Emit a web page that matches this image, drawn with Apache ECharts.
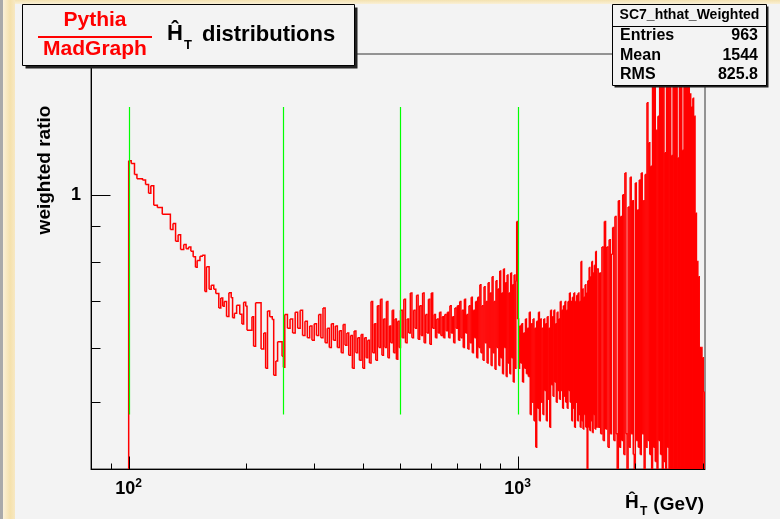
<!DOCTYPE html>
<html>
<head>
<meta charset="utf-8">
<script src="https://cdn.jsdelivr.net/npm/echarts@6.0.0/dist/echarts.min.js"></script>
<style>
  html, body { margin: 0; padding: 0; background: #f3f3f3; }
  #chart { width: 780px; height: 519px; }
</style>
</head>
<body>
<div id="chart"></div>
<script>
// empty bins (zero content) sit far below the log axis and get clipped
const EMPTY = 0.001

// low edges (GeV) + ratio for the part where single steps are readable
const seg1Edges = [80, 100, 101.5, 103.5, 105, 108.5, 110.5, 112.5, 114, 116,
  118.5, 122, 128, 130, 132, 134, 136, 138.5, 140.5, 142.5,
  144.5, 146.5, 148.5, 150, 152.5, 154.5, 157, 158.5, 161, 163,
  165.5, 167.5, 170.5, 172.5, 174.5, 176, 178.5, 181, 183.5, 185,
  187, 189.5, 193, 195.5, 197.5, 200, 201.5, 207.5, 209.5, 212,
  219, 222.5, 225, 227.5, 230.5, 234, 236, 239, 241.5, 248, 250]
const seg1Ratio = [EMPTY, 1.12, 1.11, 1.07, 1.055, 1.05, 1.035, 1.005, 1.03, 0.965,
  0.958, 0.937, 0.89, 0.908, 0.856, 0.875, 0.833, 0.847, 0.835, 0.84,
  0.828, 0.813, 0.785, 0.803, 0.814, 0.817, 0.724, 0.786, 0.729, 0.739,
  0.729, 0.719, 0.685, 0.708, 0.689, 0.70, 0.666, 0.721, 0.709, 0.663,
  0.673, 0.691, 0.671, 0.649, 0.698, 0.689, 0.636, 0.665, 0.603, 0.697,
  0.597, 0.63, 0.56, 0.678, 0.665, 0.659, 0.547, 0.574, 0.612, 0.583, 0.562]

// 252 - 500 GeV, 4 GeV bins
const seg2Ratio = [0.67, 0.64, 0.66, 0.63, 0.675, 0.64, 0.68, 0.625, 0.655, 0.62,
  0.645, 0.615, 0.65, 0.625, 0.67, 0.62, 0.685, 0.61, 0.64, 0.60,
  0.65, 0.615, 0.645, 0.60, 0.635, 0.59, 0.648, 0.605, 0.63, 0.585,
  0.625, 0.56, 0.634, 0.59, 0.62, 0.575, 0.627, 0.56, 0.62, 0.58,
  0.615, 0.57, 0.70, 0.59, 0.65, 0.575, 0.69, 0.60, 0.705, 0.585,
  0.66, 0.60, 0.70, 0.58, 0.645, 0.61, 0.68, 0.59, 0.66, 0.577,
  0.655, 0.60]

// 500 - 1000 GeV, 5 GeV bins
const seg3Ratio = [0.68, 0.62, 0.705, 0.61, 0.66, 0.63, 0.72, 0.62, 0.68, 0.64,
  0.715, 0.617, 0.69, 0.625, 0.72, 0.61, 0.67, 0.63, 0.705, 0.607,
  0.72, 0.64, 0.67, 0.62, 0.66, 0.63, 0.675, 0.625, 0.665, 0.62,
  0.67, 0.635, 0.675, 0.62, 0.69, 0.63, 0.665, 0.61, 0.685, 0.64,
  0.69, 0.615, 0.70, 0.62, 0.68, 0.60, 0.705, 0.63, 0.67, 0.597,
  0.69, 0.61, 0.71, 0.59, 0.68, 0.62, 0.70, 0.58, 0.71, 0.60,
  0.74, 0.59, 0.69, 0.575, 0.735, 0.61, 0.70, 0.57, 0.745, 0.60,
  0.72, 0.565, 0.76, 0.59, 0.70, 0.558, 0.75, 0.60, 0.73, 0.565,
  0.775, 0.58, 0.72, 0.55, 0.78, 0.60, 0.745, 0.545, 0.765, 0.57,
  0.72, 0.55, 0.77, 0.58, 0.74, 0.535, 0.765, 0.56, 0.75, 0.914]

// 1000 - 1600 GeV, 6 GeV bins
const seg4Ratio = [0.66, 0.56, 0.645, 0.57, 0.65, 0.535, 0.63, 0.56, 0.66, 0.55,
  0.64, 0.545, 0.675, 0.48, 0.65, 0.50, 0.66, 0.47, 0.64, 0.43,
  0.655, 0.49, 0.675, 0.47, 0.66, 0.50, 0.64, 0.48, 0.66, 0.52,
  0.65, 0.47, 0.665, 0.505, 0.64, 0.46, 0.68, 0.53, 0.665, 0.51,
  0.68, 0.535, 0.65, 0.50, 0.675, 0.52, 0.66, 0.505, 0.70, 0.52,
  0.68, 0.49, 0.69, 0.51, 0.70, 0.50, 0.68, 0.49, 0.70, 0.52,
  0.72, 0.50, 0.70, 0.47, 0.71, 0.49, 0.72, 0.46, 0.70, 0.50,
  0.715, 0.47, 0.72, 0.48, 0.70, 0.46, 0.80, 0.47, 0.73, 0.457,
  0.71, 0.48, 0.74, 0.46, 0.72, EMPTY, 0.75, 0.46, 0.784, 0.455,
  0.76, 0.47, 0.80, 0.452, 0.77, 0.48, 0.79, 0.457, 0.827, 0.46]

// 1600 - 3040 GeV, 12 GeV bins
const seg5Ratio = [0.78, 0.46, 0.77, 0.45, 0.84, 0.44, 0.914, 0.457, 0.84, 0.43,
  0.86, 0.45, 0.82, 0.896, 0.44, 0.93, 0.45, EMPTY, 0.98, 0.43,
  0.93, 0.44, 1.0, 0.42, 1.075, 0.45, EMPTY, 0.96, 0.43, 1.06,
  0.45, 0.98, 0.42, EMPTY, 1.04, 0.44, 0.95, 0.43, 1.05, 0.42,
  1.075, 0.45, 0.98, EMPTY, 1.07, 0.43, 1.36, 0.44, 1.19, 0.42,
  1.10, EMPTY, 1.5, 0.43, 1.45, 0.41, 1.24, EMPTY, 1.3, 0.44,
  1.8, 0.42, 2.0, EMPTY, 1.7, 0.41, 1.15, EMPTY, 2.1, 0.43,
  1.9, EMPTY, 2.2, EMPTY, 1.14, EMPTY, 2.4, EMPTY, 2.0, EMPTY,
  1.9, EMPTY, 1.13, EMPTY, 2.3, EMPTY, 2.5, EMPTY, 1.16, EMPTY,
  2.2, EMPTY, 1.8, EMPTY, 2.1, EMPTY, 1.7, EMPTY, 1.4, EMPTY,
  1.34, EMPTY, 1.38, EMPTY, 1.3, EMPTY, 0.94, EMPTY, 0.80, EMPTY,
  0.76, EMPTY, 0.60, EMPTY, 0.60, EMPTY, 0.58, 0.517, EMPTY, 0.517]

const segments = [
  { start: 252, width: 4, ratio: seg2Ratio },
  { start: 500, width: 5, ratio: seg3Ratio },
  { start: 1000, width: 6, ratio: seg4Ratio },
  { start: 1600, width: 12, ratio: seg5Ratio },
]

// green cut lines
const cutValues = [100, 250, 500, 1000]
const cutRange = [0.48, 1.34]

// axis ranges and ticks
const xRange = [80, 3034]
const yRange = [0.4, 1.6]
const xMajorTicks = [100, 1000]
const xMinorTicks = [90, 200, 300, 400, 500, 600, 700, 800, 900, 2000, 3000]
const yMajorTicks = [1]
const yMinorTicks = [0.5, 0.6, 0.7, 0.8, 0.9]
const xTickLabels = { 100: '{b|10}{s|2}', 1000: '{b|10}{s|3}' }

const FONT = "'Liberation Sans', Arial, sans-serif"

// bins as [lo, hi, value]
const bins = []
seg1Edges.forEach((lo, i) => {
  const hi = i + 1 < seg1Edges.length ? seg1Edges[i + 1] : segments[0].start
  bins.push([lo, hi, seg1Ratio[i]])
})
segments.forEach(s => {
  s.ratio.forEach((v, i) => bins.push([s.start + i * s.width, s.start + (i + 1) * s.width, v]))
})
// each item: lo, hi, value, next value (for the vertical step at hi)
const histData = bins.map(([lo, hi, v], i) => [lo, hi, v, i + 1 < bins.length ? bins[i + 1][2] : EMPTY])

const labelFor = (v, table) => {
  for (const k in table) {
    if (Math.abs(v - Number(k)) < 1e-6 * Number(k)) return table[k]
  }
  return ''
}

const tickSeries = (values, vertical, len) => ({
  type: 'custom',
  coordinateSystem: 'cartesian2d',
  silent: true,
  z: 6,
  data: values.map(v => vertical ? [v, yRange[0]] : [xRange[0], v]),
  renderItem: (params, api) => {
    const p = api.coord([api.value(0), api.value(1)])
    const x = Math.round(p[0]) + 0.5
    const y = Math.round(p[1]) + 0.5
    return {
      type: 'line',
      shape: vertical ? { x1: x, y1: y, x2: x, y2: y - len } : { x1: x, y1: y, x2: x + len, y2: y },
      style: { stroke: '#000', lineWidth: 1 },
    }
  },
})

const txt = (text, x, y, size, opts = {}) => ({
  type: 'text',
  x, y,
  rotation: opts.rotation || 0,
  z: 101,
  style: {
    text,
    fill: opts.color || '#000',
    font: `bold ${size}px ${FONT}`,
    align: opts.align || 'left',
    verticalAlign: 'middle',
  },
})

const chart = echarts.init(document.getElementById('chart'))
chart.setOption({
  animation: false,
  backgroundColor: '#f3f3f3',
  grid: {
    left: 91, right: 75, top: 54, bottom: 50,
    show: true, borderColor: '#333', borderWidth: 1, backgroundColor: 'transparent',
  },
  xAxis: {
    type: 'log', logBase: 10, min: xRange[0], max: xRange[1],
    axisLine: { show: true, onZero: false, lineStyle: { color: '#000', width: 1 } },
    axisTick: { show: false },
    splitLine: { show: false },
    axisLabel: {
      margin: 9,
      formatter: v => labelFor(v, xTickLabels),
      rich: {
        b: { fontSize: 18, fontWeight: 'bold', fontFamily: FONT, color: '#000', lineHeight: 22 },
        s: { fontSize: 12, fontWeight: 'bold', fontFamily: FONT, color: '#000', verticalAlign: 'top' },
      },
    },
  },
  yAxis: {
    type: 'log', logBase: 10, min: yRange[0], max: yRange[1],
    axisLine: { show: true, onZero: false, lineStyle: { color: '#000', width: 1 } },
    axisTick: { show: false },
    splitLine: { show: false },
    axisLabel: {
      margin: 10,
      fontSize: 18, fontWeight: 'bold', fontFamily: FONT, color: '#000',
      formatter: v => labelFor(v, { 1: '1' }),
    },
  },
  series: [
    {
      // histogram steps, one polyline per bin so no tiny segment gets dropped
      type: 'custom',
      coordinateSystem: 'cartesian2d',
      clip: true,
      silent: true,
      z: 2,
      encode: { x: [0, 1], y: [2, 3] },
      data: histData,
      renderItem: (params, api) => {
        const a = api.coord([api.value(0), api.value(2)])
        const b = api.coord([api.value(1), api.value(2)])
        const c = api.coord([api.value(1), api.value(3)])
        return {
          type: 'polyline',
          shape: { points: [a, b, c] },
          style: { stroke: '#ff0000', lineWidth: 1.5, fill: null },
        }
      },
    },
    {
      type: 'custom',
      coordinateSystem: 'cartesian2d',
      silent: true,
      z: 4,
      data: cutValues.map(v => [v, cutRange[0], cutRange[1]]),
      renderItem: (params, api) => {
        const a = api.coord([api.value(0), api.value(1)])
        const b = api.coord([api.value(0), api.value(2)])
        const x = Math.round(a[0]) + 0.5
        return {
          type: 'line',
          shape: { x1: x, y1: a[1], x2: x, y2: b[1] },
          style: { stroke: '#00ff00', lineWidth: 1.2 },
        }
      },
    },
    tickSeries(xMajorTicks, true, 13),
    tickSeries(xMinorTicks, true, 6),
    tickSeries(yMajorTicks, false, 19),
    tickSeries(yMinorTicks, false, 9),
  ],
  graphic: [
    // slide decoration on the left and top
    { type: 'rect', z: 100, shape: { x: 0, y: 0, width: 780, height: 4 },
      style: { fill: { type: 'linear', x: 0, y: 0, x2: 0, y2: 1, colorStops: [{ offset: 0, color: '#f4e2b0' }, { offset: 1, color: '#faf0d6' }] } } },
    { type: 'rect', z: 100, shape: { x: 3, y: 0, width: 12, height: 519 },
      style: { fill: { type: 'linear', x: 0, y: 0, x2: 1, y2: 0, colorStops: [{ offset: 0, color: '#fbf1d8' }, { offset: 0.6, color: '#f5e1ac' }, { offset: 1, color: '#f7e8c2' }] } } },
    { type: 'rect', z: 100, shape: { x: 0, y: 0, width: 3, height: 519 }, style: { fill: '#aaaaaa' } },

    // title box
    { type: 'rect', z: 100, shape: { x: 25.5, y: 7.5, width: 332, height: 61 }, style: { fill: '#222' } },
    { type: 'rect', z: 100, shape: { x: 22.5, y: 4.5, width: 332, height: 61 }, style: { fill: '#f3f3f3', stroke: '#000', lineWidth: 1 } },
    txt('Pythia', 95, 20, 21, { color: '#ff0000', align: 'center' }),
    { type: 'rect', z: 101, shape: { x: 38, y: 36, width: 114, height: 2 }, style: { fill: '#ff0000' } },
    txt('MadGraph', 95, 49, 21, { color: '#ff0000', align: 'center' }),
    txt('Ĥ', 167, 34, 22),
    txt('T', 184, 45, 13),
    txt('distributions', 202, 35, 22),

    // stats box
    { type: 'rect', z: 100, shape: { x: 614.5, y: 6.5, width: 154, height: 81 }, style: { fill: '#222' } },
    { type: 'rect', z: 100, shape: { x: 612.5, y: 4.5, width: 154, height: 81 }, style: { fill: '#f3f3f3', stroke: '#000', lineWidth: 1 } },
    { type: 'line', z: 101, shape: { x1: 612.5, y1: 26.5, x2: 766.5, y2: 26.5 }, style: { stroke: '#000', lineWidth: 1 } },
    txt('SC7_hthat_Weighted', 689.5, 15.5, 14, { align: 'center' }),
    txt('Entries', 620, 36, 16),
    txt('963', 758, 36, 16, { align: 'right' }),
    txt('Mean', 620, 56, 16),
    txt('1544', 758, 56, 16, { align: 'right' }),
    txt('RMS', 620, 75, 16),
    txt('825.8', 758, 75, 16, { align: 'right' }),

    // axis titles
    txt('weighted ratio', 45, 170, 19, { align: 'center', rotation: Math.PI / 2 }),
    txt('Ĥ', 625, 503, 19),
    txt('T', 640, 512, 12),
    txt('(GeV)', 704, 505, 19, { align: 'right' }),
  ],
})
</script>
</body>
</html>
